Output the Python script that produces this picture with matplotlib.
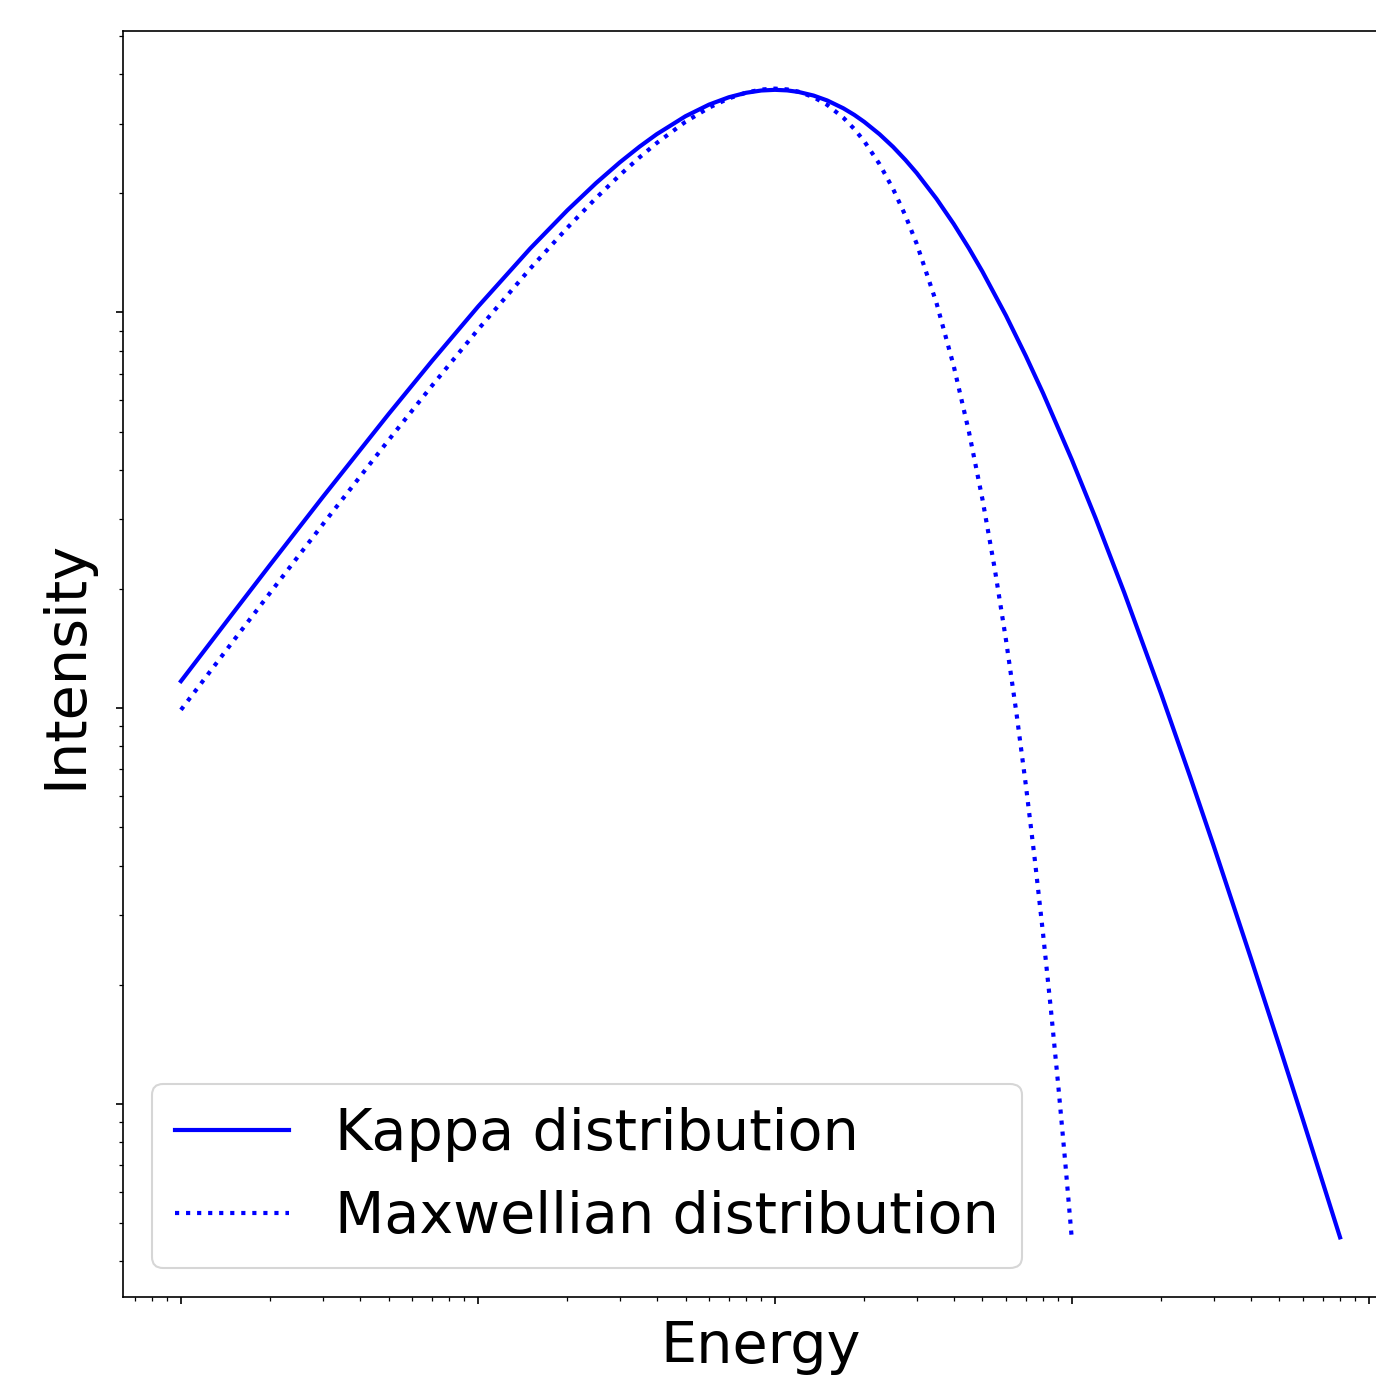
import numpy as np
import matplotlib
matplotlib.use("Agg")
import matplotlib.pyplot as plt
from matplotlib.ticker import NullFormatter

# values (log-log axes, arbitrary units)
energy_kappa = [1, 1.5, 2, 3, 5, 7, 10, 15, 20, 25, 30, 35, 40, 50, 60, 70,
                80, 90, 100, 110, 120, 135, 150, 170, 185, 200, 225, 250, 275,
                300, 350, 400, 450, 500, 600, 700, 800, 1000, 1200, 1500,
                2000, 2500, 3000, 4000, 5000, 6000, 8000]
intensity_kappa = [1.170, 1.742, 2.307, 3.413, 5.533, 7.537, 10.34, 14.51,
                   18.12, 21.24, 23.93, 26.24, 28.22, 31.33, 33.52, 34.99,
                   35.91, 36.39, 36.53, 36.41, 36.09, 35.33, 34.34, 32.81,
                   31.58, 30.31, 28.22, 26.21, 24.30, 22.53, 19.38, 16.74,
                   14.53, 12.68, 9.819, 7.759, 6.249, 4.243, 3.029, 1.961,
                   1.085, 0.6717, 0.4494, 0.2342, 0.1398, 0.09109, 0.04597]

energy_maxw = [1, 1.5, 2, 3, 5, 7, 10, 15, 20, 25, 30, 35, 40, 50, 60, 70,
               80, 90, 100, 110, 120, 135, 150, 170, 185, 200, 225, 250, 275,
               300, 350, 400, 450, 500, 550, 600, 650, 700, 750, 800, 850,
               900, 950, 1000]
intensity_maxw = [0.990, 1.478, 1.960, 2.911, 4.756, 6.527, 9.048, 12.91,
                  16.37, 19.47, 22.22, 24.66, 26.81, 30.33, 32.93, 34.76,
                  35.95, 36.59, 36.79, 36.62, 36.14, 35.00, 33.47, 31.06,
                  29.09, 27.07, 23.72, 20.52, 17.58, 14.94, 10.57, 7.326,
                  4.999, 3.369, 2.248, 1.487, 0.9772, 0.6383, 0.4148, 0.2684,
                  0.1730, 0.1111, 0.07111, 0.04540]

labels = ["Kappa distribution", "Maxwellian distribution"]

fig = plt.figure(figsize=(1376 / 150, 1375 / 150), dpi=150)
ax = fig.add_axes([0.0894, 0.0567, 0.9266, 0.9207])

ax.plot(energy_kappa, intensity_kappa, color="blue", lw=2, label=labels[0])
ax.plot(energy_maxw, intensity_maxw, color="blue", lw=2, ls=":", label=labels[1])

ax.set_xscale("log")
ax.set_yscale("log")

for axis in (ax.xaxis, ax.yaxis):
    axis.set_major_formatter(NullFormatter())
    axis.set_minor_formatter(NullFormatter())

ax.set_xlabel("Energy", fontsize=27.5)
ax.set_ylabel("Intensity", fontsize=27.5, labelpad=7)
ax.legend(loc="lower left", fontsize=27.5)

fig.savefig("out.png", dpi=150)
